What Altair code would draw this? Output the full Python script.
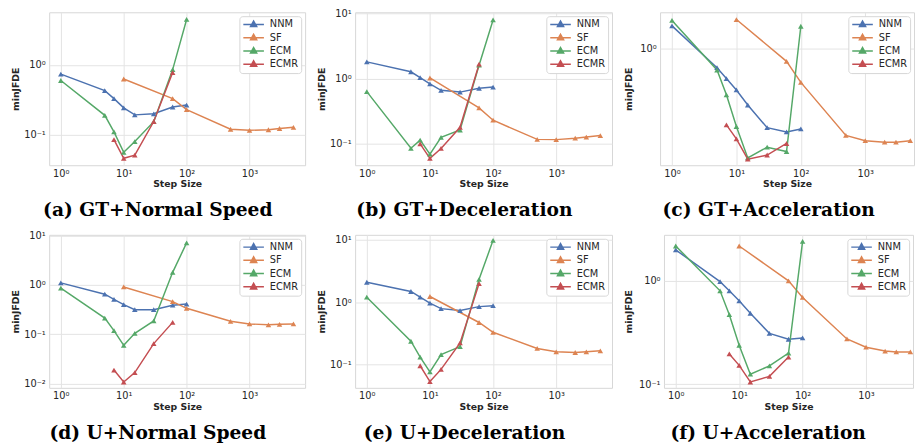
import altair as alt
import pandas as pd

# ---------------- data ----------------
X_MAIN = [1, 5, 7, 10, 15, 30, 60, 100]          # NNM and ECM step sizes
X_SF = [10, 60, 100, 500, 1000, 2000, 3000, 5000]  # SF step sizes
X_ECMR = [7, 10, 15, 30, 60]                       # ECMR step sizes

METHODS = ["NNM", "SF", "ECM", "ECMR"]
COLORS = ["#4C72B0", "#DD8452", "#55A868", "#C44E52"]

TITLES = ["(a) GT+Normal Speed", "(b) GT+Deceleration", "(c) GT+Acceleration",
          "(d) U+Normal Speed", "(e) U+Deceleration", "(f) U+Acceleration"]

# (a) GT + Normal Speed
A_NNM = [0.74, 0.43, 0.33, 0.243, 0.193, 0.20, 0.25, 0.267]
A_SF = [0.63, 0.33, 0.23, 0.12, 0.116, 0.118, 0.123, 0.128]
A_ECM = [0.60, 0.19, 0.11, 0.056, 0.080, 0.154, 0.86, 4.5]
A_ECMR = [0.085, 0.046, 0.051, 0.155, 0.78]

# (b) GT + Deceleration
B_NNM = [1.8, 1.27, 1.03, 0.83, 0.66, 0.62, 0.71, 0.74]
B_SF = [1.02, 0.355, 0.23, 0.117, 0.116, 0.122, 0.127, 0.134]
B_ECM = [0.63, 0.0855, 0.114, 0.0695, 0.126, 0.163, 1.6, 7.9]
B_ECMR = [0.10, 0.060, 0.085, 0.179, 1.66]

# (c) GT + Acceleration
C_NNM = [1.54, 0.69, 0.56, 0.45, 0.337, 0.218, 0.201, 0.213]
C_SF = [1.74, 0.78, 0.52, 0.188, 0.17, 0.165, 0.165, 0.17]
C_ECM = [1.71, 0.66, 0.41, 0.223, 0.122, 0.15, 0.138, 1.53]
C_ECMR = [0.23, 0.176, 0.119, 0.129, 0.161]

# (d) U + Normal Speed
D_NNM = [1.1, 0.65, 0.51, 0.40, 0.316, 0.316, 0.39, 0.41]
D_SF = [0.91, 0.46, 0.337, 0.184, 0.163, 0.156, 0.16, 0.163]
D_ECM = [0.86, 0.214, 0.119, 0.060, 0.105, 0.187, 1.8, 7.1]
D_ECMR = [0.019, 0.0109, 0.0169, 0.065, 0.175]

# (e) U + Deceleration
E_NNM = [2.08, 1.48, 1.2, 0.96, 0.785, 0.73, 0.845, 0.875]
E_SF = [1.23, 0.47, 0.327, 0.18, 0.159, 0.155, 0.159, 0.165]
E_ECM = [1.2, 0.235, 0.131, 0.076, 0.143, 0.193, 2.32, 9.8]
E_ECMR = [0.095, 0.053, 0.083, 0.221, 1.98]

# (f) U + Acceleration
F_NNM = [1.99, 0.98, 0.80, 0.64, 0.485, 0.31, 0.272, 0.28]
F_SF = [2.17, 1.0, 0.69, 0.274, 0.228, 0.209, 0.205, 0.205]
F_ECM = [2.17, 0.80, 0.47, 0.238, 0.125, 0.15, 0.20, 2.4]
F_ECMR = [0.196, 0.152, 0.105, 0.119, 0.183]

SERIES = [
    (A_NNM, A_SF, A_ECM, A_ECMR),
    (B_NNM, B_SF, B_ECM, B_ECMR),
    (C_NNM, C_SF, C_ECM, C_ECMR),
    (D_NNM, D_SF, D_ECM, D_ECMR),
    (E_NNM, E_SF, E_ECM, E_ECMR),
    (F_NNM, F_SF, F_ECM, F_ECMR),
]

# axis ranges of each panel
Y_DOMAINS = [[0.0366, 5.7], [0.047, 10.35], [0.106, 2.0],
             [0.0083, 10.3], [0.042, 12.0], [0.0922, 2.78]]
Y_TICKS = [[0.1, 1], [0.1, 1, 10], [1],
           [0.01, 0.1, 1, 10], [0.1, 1, 10], [0.1, 1]]
X_TICKS = [1, 10, 100, 1000]
X_MIN = 0.653
X_MAXES = [7656, 7656, 5715, 7656, 7656, 5508]
WIDTHS = [261, 262, 259, 261, 262, 254]
Y_EXTENTS = [25.5, 25, 23.5, 25.5, 25, 27.5]
HEIGHT = 156

SUP = {0.01: "10⁻²", 0.1: "10⁻¹", 1: "10⁰", 10: "10¹", 100: "10²", 1000: "10³"}


def label_expr(values):
    expr = "''"
    for v in reversed(values):
        expr = f"abs(datum.value - {v}) < {v} * 0.001 ? '{SUP[v]}' : ({expr})"
    return expr


LEGEND_SYMBOL = "M-1,0H1M0,-0.34L0.3,0.2L-0.3,0.2Z"


def panel(i):
    rows = []
    for m, xs, ys in zip(METHODS, [X_MAIN, X_SF, X_MAIN, X_ECMR], SERIES[i]):
        for xv, yv in zip(xs, ys):
            rows.append({"step": xv, "value": yv, "method": m})
    df = pd.DataFrame(rows)

    x = alt.X("step:Q",
              scale=alt.Scale(type="log", domain=[X_MIN, X_MAXES[i]], nice=False),
              axis=alt.Axis(values=X_TICKS, title="Step Size", labelExpr=label_expr(X_TICKS)))
    y = alt.Y("value:Q",
              scale=alt.Scale(type="log", domain=Y_DOMAINS[i], nice=False),
              axis=alt.Axis(values=Y_TICKS[i], title="minJFDE", labelExpr=label_expr(Y_TICKS[i]),
                            minExtent=Y_EXTENTS[i], maxExtent=Y_EXTENTS[i]))
    color = alt.Color("method:N", sort=METHODS,
                      scale=alt.Scale(domain=METHODS, range=COLORS),
                      legend=alt.Legend(title=None, orient="top-right", offset=4,
                                        symbolType=LEGEND_SYMBOL, symbolSize=441,
                                        symbolStrokeWidth=1.5, clipHeight=11, rowPadding=2.5,
                                        labelFont="DejaVu Sans", labelFontSize=10,
                                        labelColor="#262626", labelOffset=5,
                                        padding=3, strokeColor="#d6d6d6",
                                        fillColor="white", cornerRadius=3))
    base = alt.Chart(df)
    lines = base.mark_line(strokeWidth=1.5, clip=True).encode(x=x, y=y, color=color)
    pts = base.mark_point(shape="triangle-up", filled=True, size=32, opacity=1,
                          clip=True).encode(x=x, y=y, color=color)
    return alt.layer(lines, pts).properties(
        width=WIDTHS[i], height=HEIGHT,
        title=alt.TitleParams(TITLES[i], orient="bottom", frame="bounds", anchor="middle",
                              font="DejaVu Serif", fontWeight="bold", fontSize=19,
                              color="black", offset=13.5))


row1 = alt.hconcat(panel(0), panel(1), panel(2), spacing=10).resolve_scale(
    color="independent").resolve_legend(color="independent")
row2 = alt.hconcat(panel(3), panel(4), panel(5), spacing=10).resolve_scale(
    color="independent").resolve_legend(color="independent")

chart = alt.vconcat(row1, row2, spacing=9).resolve_scale(
    color="independent").resolve_legend(color="independent").properties(
    padding={"left": 2, "top": -5, "right": 0, "bottom": 0}
).configure(background="white").configure_view(
    stroke="#d6d6d6", strokeWidth=1
).configure_axis(
    domain=False, ticks=False, grid=True, gridColor="#e3e3e3", gridWidth=1,
    labelFont="DejaVu Sans", labelFontSize=10, labelColor="#262626", labelPadding=4,
    titleFont="DejaVu Sans", titleFontSize=9.5, titleFontWeight="bold",
    titleColor="#262626", titlePadding=4
).configure_axisX(labelPadding=3, titlePadding=1)

chart.save("out.html", embed_options={"renderer": "svg", "actions": False})
